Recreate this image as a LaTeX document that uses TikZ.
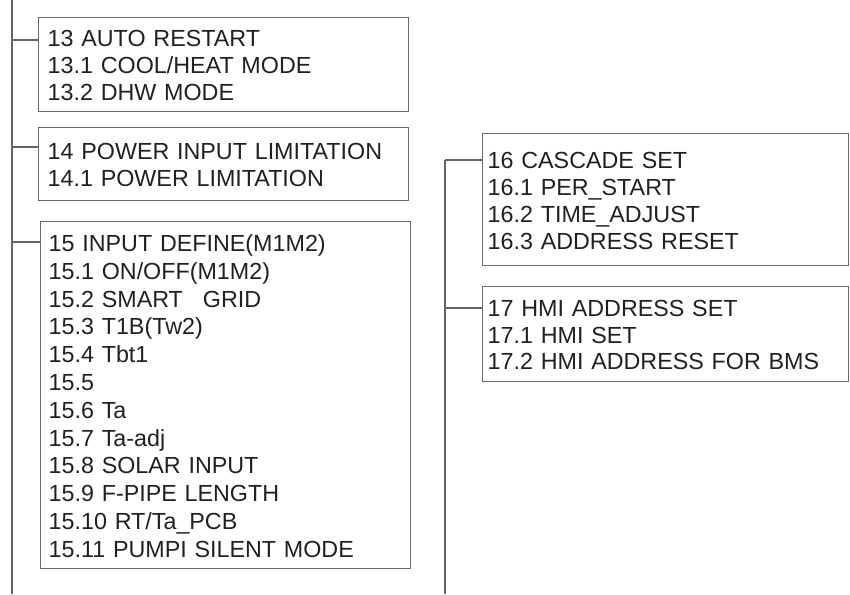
\documentclass[tikz,border=0pt]{standalone}
\usepackage{fontspec}
\setmainfont{Liberation Sans}
\definecolor{linegray}{HTML}{666666}
\definecolor{inkblack}{HTML}{231F20}
\newcommand{\topstrut}{\rule{0pt}{23pt}}
\newcommand{\botstrut}{\rule[-4.5pt]{0pt}{4.5pt}}
\tikzset{
  menubox/.style={draw=linegray, line width=1.4pt, anchor=north west, align=left,
    inner ysep=0pt, text=inkblack, font=\fontsize{23.3}{#1}\selectfont},
  menubox/.default=27,
  link/.style={draw=linegray, line width=1.4pt}
}
\begin{document}
\begin{tikzpicture}[x=1pt, y=-1pt]
  \useasboundingbox (0,0) rectangle (850,594);
  % left column
  \node[menubox, inner xsep=9pt, text width=352pt, minimum height=94pt] (b13) at (38,17)
    {\topstrut 13 AUTO RESTART\\13.1 COOL/HEAT MODE\\13.2 DHW MODE\botstrut};
  \node[menubox, inner xsep=9pt, text width=352pt, minimum height=73pt] (b14) at (38,127)
    {\topstrut 14 POWER INPUT LIMITATION\\14.1 POWER LIMITATION\botstrut};
  \node[menubox=27.8, inner xsep=8pt, text width=354pt, minimum height=347pt] (b15) at (40,221)
    {\topstrut 15 INPUT DEFINE(M1M2)\\15.1 ON/OFF(M1M2)\\15.2 SMART\hspace{20pt}GRID\\
     15.3 T1B(Tw2)\\15.4 Tbt1\\15.5\\15.6 Ta\\15.7 Ta-adj\\15.8 SOLAR INPUT\\
     15.9 F-PIPE LENGTH\\15.10 RT/Ta\_PCB\\15.11 PUMPI SILENT MODE\botstrut};
  % right column
  \node[menubox=27.3, inner xsep=5pt, text width=356pt, minimum height=132pt] (b16) at (482,133)
    {\topstrut 16 CASCADE SET\\16.1 PER\_START\\16.2 TIME\_ADJUST\\16.3 ADDRESS RESET\botstrut};
  \node[menubox=26.5, inner xsep=5pt, text width=356pt, minimum height=95pt] (b17) at (482,286)
    {\topstrut 17 HMI ADDRESS SET\\17.1 HMI SET\\17.2 HMI ADDRESS FOR BMS\botstrut};
  % trunks
  \coordinate (trunkLtop) at (12,0);
  \coordinate (trunkLbot) at (12,594);
  \coordinate (j13) at (12,40);
  \coordinate (j14) at (12,147);
  \coordinate (j15) at (12,242);
  \coordinate (j16) at (445,160);
  \coordinate (j17) at (445,308);
  \coordinate (trunkRbot) at (445,594);
  \draw[link] (trunkLtop) -- (trunkLbot);
  \draw[link] (j16) -- (trunkRbot);
  % branches
  \draw[link] (j13) -- (j13 -| b13.west);
  \draw[link] (j14) -- (j14 -| b14.west);
  \draw[link] (j15) -- (j15 -| b15.west);
  \draw[link] (j16) -- (j16 -| b16.west);
  \draw[link] (j17) -- (j17 -| b17.west);
\end{tikzpicture}
\end{document}
